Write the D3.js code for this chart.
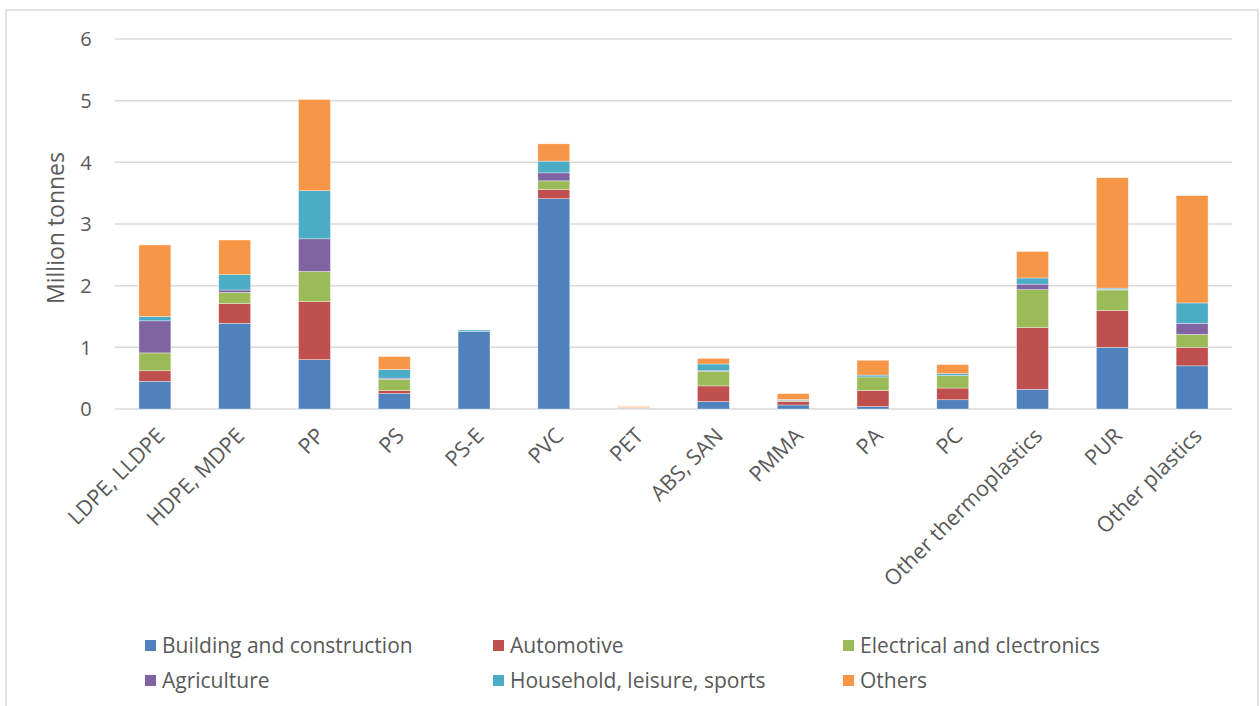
<!DOCTYPE html>
<html>
<head>
<meta charset="utf-8">
<script src="https://cdn.jsdelivr.net/npm/d3@7"></script>
<style>
  body { margin: 0; background: #fff; }
  text { font-family: "Open Sans", "Noto Sans", sans-serif; fill: #595959; }
</style>
</head>
<body>
<svg id="chart" width="1260" height="706"></svg>
<script>
const categories = ["LDPE, LLDPE", "HDPE, MDPE", "PP", "PS", "PS-E", "PVC", "PET", "ABS, SAN", "PMMA", "PA", "PC", "Other thermoplastics", "PUR", "Other plastics"]
const seriesNames = ["Building and construction", "Automotive", "Electrical and clectronics", "Agriculture", "Household, leisure, sports", "Others"]
const colors = ["#4F81BD", "#C0504D", "#9BBB59", "#8064A2", "#4BACC6", "#F79646"]

const building   = [0.45, 1.39, 0.80, 0.25, 1.26, 3.41, 0.01, 0.12, 0.065, 0.04, 0.15, 0.32, 1.00, 0.70]
const automotive = [0.17, 0.32, 0.94, 0.05, 0.00, 0.15, 0.005, 0.255, 0.055, 0.26, 0.19, 1.00, 0.60, 0.30]
const electrical = [0.29, 0.18, 0.49, 0.18, 0.00, 0.14, 0.005, 0.235, 0.015, 0.22, 0.20, 0.615, 0.33, 0.21]
const agriculture= [0.52, 0.04, 0.53, 0.02, 0.00, 0.13, 0.00, 0.01, 0.01, 0.00, 0.005, 0.09, 0.01, 0.18]
const household  = [0.07, 0.25, 0.78, 0.14, 0.02, 0.19, 0.005, 0.11, 0.01, 0.03, 0.03, 0.10, 0.02, 0.33]
const others     = [1.16, 0.56, 1.48, 0.21, 0.00, 0.28, 0.015, 0.09, 0.095, 0.24, 0.145, 0.43, 1.79, 1.74]
const yTicks = [0, 1, 2, 3, 4, 5, 6]

const series = [building, automotive, electrical, agriculture, household, others]
const table = categories.map((c, i) => {
    const row = { cat: c }
    seriesNames.forEach((s, j) => row[s] = series[j][i])
    return row
})

const svg = d3.select("#chart")
const margin = { left: 115, right: 28, top: 39, bottom: 297 }
const width = 1260, height = 706

svg.append("rect").attr("x", 6).attr("y", 10).attr("width", 1252).attr("height", 710)
    .attr("fill", "none").attr("stroke", "#d9d9d9").attr("stroke-width", 1.5)

const x = d3.scaleBand().domain(categories).range([margin.left, width - margin.right]).paddingInner(0.6).paddingOuter(0.3)
const y = d3.scaleLinear().domain([0, 6]).range([height - margin.bottom, margin.top])

// gridlines
svg.append("g").selectAll("line").data(yTicks).enter().append("line")
    .attr("x1", margin.left).attr("x2", width - margin.right)
    .attr("y1", d => y(d)).attr("y2", d => y(d))
    .attr("stroke", "#d9d9d9").attr("stroke-width", 1.5)

// y tick labels
svg.append("g").selectAll("text").data(yTicks).enter().append("text")
    .attr("x", 86).attr("y", d => y(d)).attr("dy", "0.36em")
    .attr("text-anchor", "middle").style("font-size", "20px")
    .text(d => d)

svg.append("text").attr("transform", "translate(64," + ((y(0) + y(6)) / 2 + 4) + ") rotate(-90)")
    .attr("text-anchor", "middle").style("font-size", "23px").text("Million tonnes")

const stack = d3.stack().keys(seriesNames)(table)

svg.append("g").selectAll("g").data(stack).enter().append("g")
    .attr("fill", (d, i) => colors[i])
    .selectAll("rect").data(d => d).enter().append("rect")
    .attr("x", d => x(d.data.cat))
    .attr("width", x.bandwidth())
    .attr("y", d => y(d[1]))
    .attr("height", d => y(d[0]) - y(d[1]))
    .attr("stroke", "#fff").attr("stroke-width", 0.6).attr("stroke-opacity", 0.6)

// x labels
svg.append("g").selectAll("text").data(categories).enter().append("text")
    .attr("transform", d => "translate(" + (x(d) + x.bandwidth() / 2 + 2) + "," + (y(0) + 19) + ") rotate(-45)")
    .attr("text-anchor", "end").attr("dy", "0.6em")
    .style("font-size", "21.5px")
    .text(d => d)

// legend
const legendPos = [[145, 646], [493, 646], [843, 646], [145, 681], [493, 681], [843, 681]]
const legend = svg.append("g").selectAll("g").data(seriesNames).enter().append("g")
    .attr("transform", (d, i) => "translate(" + legendPos[i][0] + "," + legendPos[i][1] + ")")
legend.append("rect").attr("x", 0).attr("y", -6).attr("width", 11).attr("height", 11).attr("fill", (d, i) => colors[i])
legend.append("text").attr("x", 17).attr("y", 0).attr("dy", "0.35em").style("font-size", "21px").text(d => d)
</script>
</body>
</html>
